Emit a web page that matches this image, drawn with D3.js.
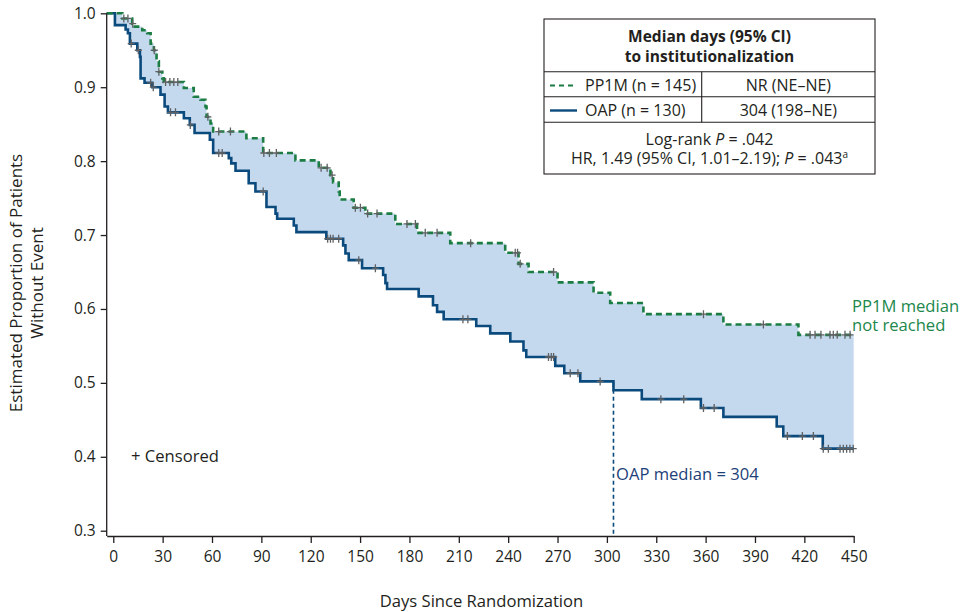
<!DOCTYPE html>
<html>
<head>
<meta charset="utf-8">
<script src="https://cdn.jsdelivr.net/npm/d3@7"></script>
<style>
  body { margin: 0; background: #fff; }
  svg { font-family: "Open Sans", sans-serif; }
</style>
</head>
<body>
<div id="chart"></div>
<script>
// Kaplan-Meier step values (day, proportion after the step)
const oapTimes = [0, 1, 7.5, 8.9, 10.1, 14.6, 16.2, 16.6, 19, 23.7, 28.7, 31.2, 33.2, 42.9, 46.5, 49.4, 58.7, 60.7, 70.2, 71.7,
  74.3, 82.3, 86.4, 93.1, 98.6, 99.6, 109.7, 111.3, 129.5, 139.7, 141.1, 143.1, 151.2, 164, 165.4, 166.4, 185.6, 194.3, 196.8, 200.8,
  220.6, 229.1, 241.3, 249.3, 251, 268.6, 274.1, 283.8, 304, 321.2, 357.1, 370.8, 403.2, 407.2, 431.2];
const oapSurv = [1.0, 0.984, 0.978, 0.973, 0.959, 0.950, 0.941, 0.912, 0.906, 0.900, 0.890, 0.874, 0.866, 0.858, 0.849, 0.838, 0.829, 0.811, 0.804, 0.797,
  0.787, 0.770, 0.759, 0.738, 0.729, 0.722, 0.713, 0.704, 0.695, 0.686, 0.675, 0.666, 0.655, 0.646, 0.635, 0.627, 0.617, 0.605, 0.596, 0.586,
  0.577, 0.567, 0.556, 0.544, 0.535, 0.523, 0.513, 0.502, 0.490, 0.478, 0.466, 0.454, 0.441, 0.428, 0.411];
const oapCensor = [10.9, 15.2, 22.7, 24.3, 34.8, 37.8, 46.8, 64.1, 66.2, 91.1, 130.3, 132, 133.6, 137, 149.2, 159.3, 212.5, 215.5,
  264.5, 266.2, 267.6, 277.7, 282.4, 295.9, 332.8, 346.7, 358.7, 365.2, 409.7, 418.8, 425.5, 431.5, 434.6, 441.7, 443.7, 445.7, 447.7, 449.7];

const pp1mTimes = [0, 5.5, 11.5, 12.1, 17.6, 20.6, 22.7, 24.7, 26.3, 27.7, 29.8, 30.7, 42.9, 48.9, 53, 56, 56.7, 59.1, 60.7, 80.9,
  91.1, 110.7, 124.9, 132, 133.6, 137, 137.6, 146.1, 153.2, 171.4, 184.6, 204.8, 238.2, 246.3, 252.4, 270, 291.9, 302, 322.2, 370.8, 416.4];
const pp1mSurv = [1.0, 0.993, 0.986, 0.982, 0.977, 0.973, 0.959, 0.950, 0.935, 0.921, 0.912, 0.907, 0.899, 0.887, 0.883, 0.874, 0.860, 0.851, 0.840, 0.831,
  0.811, 0.801, 0.791, 0.781, 0.771, 0.759, 0.748, 0.737, 0.729, 0.715, 0.703, 0.689, 0.676, 0.661, 0.650, 0.636, 0.622, 0.608, 0.593, 0.579, 0.565];
const pp1mCensor = [6.4, 8.9, 11.8, 24.9, 27.7, 31.8, 34.4, 36.8, 39.2, 57.5, 64.1, 71.2, 91.5, 94.9, 99.1, 126.3, 130, 133, 147.1, 150.2,
  154.6, 160.3, 178.5, 183.6, 189.6, 196.8, 217.2, 244.3, 245.7, 247.3, 267.6, 358.7, 395.1, 423.5, 426.5, 430.1, 435.6, 437.6, 440, 444.7, 447.8];

const xTicks = [0, 30, 60, 90, 120, 150, 180, 210, 240, 270, 300, 330, 360, 390, 420, 450];
const yTicks = [0.3, 0.4, 0.5, 0.6, 0.7, 0.8, 0.9, 1.0];
const oapMedian = 304;
const endDay = 450;

const navy = "#0b4a7d";
const green = "#1b7d43";
const textCol = "#231f20";

const width = 969, height = 612;
const xAxisY = 536;

const svg = d3.select("#chart").append("svg")
  .attr("width", width)
  .attr("height", height);

const x = d3.scaleLinear().domain([-4, endDay]).range([106.7, 853.7]);
const y = d3.scaleLinear().domain([0.3, 1.0]).range([530.7, 13.3]);

// step value at a given day
function survAt(times, surv, t) {
  let i = d3.bisectRight(times, t) - 1;
  if (i < 0) i = 0;
  return surv[i];
}

function stepPoints(times, surv) {
  const pts = [[x.domain()[0], surv[0]]];
  times.forEach((t, i) => pts.push([t, surv[i]]));
  pts.push([endDay, surv[surv.length - 1]]);
  return pts;
}

// shaded band between the curves
const allTimes = Array.from(new Set([x.domain()[0]].concat(oapTimes, pp1mTimes, [endDay]))).sort((a, b) => a - b);
const band = d3.area()
  .curve(d3.curveStepAfter)
  .x(d => x(d))
  .y0(d => y(survAt(oapTimes, oapSurv, d)))
  .y1(d => y(survAt(pp1mTimes, pp1mSurv, d)));

svg.append("path")
  .attr("d", band(allTimes))
  .attr("fill", "#c5d9ee");

const line = d3.line()
  .curve(d3.curveStepAfter)
  .x(d => x(d[0]))
  .y(d => y(d[1]));

// median reference line
svg.append("line")
  .attr("x1", x(oapMedian)).attr("x2", x(oapMedian))
  .attr("y1", y(0.5)).attr("y2", xAxisY)
  .attr("stroke", navy)
  .attr("stroke-width", 1.6)
  .attr("stroke-dasharray", "4,3");

svg.append("path")
  .attr("d", line(stepPoints(oapTimes, oapSurv)))
  .attr("fill", "none")
  .attr("stroke", navy)
  .attr("stroke-width", 2.6);

svg.append("path")
  .attr("d", line(stepPoints(pp1mTimes, pp1mSurv)))
  .attr("fill", "none")
  .attr("stroke", green)
  .attr("stroke-width", 2.6)
  .attr("stroke-dasharray", "6,4");

// censor marks
function drawCensor(times, surv, cens) {
  svg.append("g").selectAll("path")
    .data(cens)
    .enter()
    .append("path")
    .attr("d", d => {
      const cx = x(d), cy = y(survAt(times, surv, d));
      return `M${cx - 3.5},${cy}H${cx + 3.5}M${cx},${cy - 4}V${cy + 4}`;
    })
    .attr("stroke", "#5f6062")
    .attr("stroke-width", 1.3)
    .attr("fill", "none");
}
drawCensor(oapTimes, oapSurv, oapCensor);
drawCensor(pp1mTimes, pp1mSurv, pp1mCensor);

// axes
const xAxis = svg.append("g")
  .attr("transform", `translate(0,${xAxisY})`)
  .call(d3.axisBottom(x).tickValues(xTicks).tickSize(7).tickSizeOuter(0).tickPadding(8));
xAxis.select(".domain").attr("stroke", textCol).attr("stroke-width", 1.3);
xAxis.selectAll(".tick line").attr("stroke", textCol).attr("stroke-width", 1.3);
xAxis.selectAll("text").attr("font-size", "15.5px").attr("fill", textCol).attr("font-family", "Open Sans");

const yAxis = svg.append("g")
  .attr("transform", `translate(${x.range()[0]},0)`)
  .call(d3.axisLeft(y).tickValues(yTicks).tickFormat(d3.format(".1f")).tickSize(6).tickSizeOuter(0).tickPadding(5));
yAxis.select(".domain").remove();
yAxis.selectAll(".tick line").attr("stroke", textCol).attr("stroke-width", 1.3);
yAxis.selectAll("text").attr("font-size", "15.5px").attr("fill", textCol).attr("font-family", "Open Sans");
svg.append("line")
  .attr("x1", x.range()[0]).attr("x2", x.range()[0])
  .attr("y1", y(1.0)).attr("y2", xAxisY)
  .attr("stroke", textCol).attr("stroke-width", 1.3);

// axis titles
svg.append("text")
  .attr("x", 481.5).attr("y", 606.5)
  .attr("text-anchor", "middle")
  .attr("font-size", "16.6px").attr("fill", textCol)
  .text("Days Since Randomization");

svg.append("text")
  .attr("transform", "translate(22,283) rotate(-90)")
  .attr("text-anchor", "middle")
  .attr("font-size", "17px").attr("fill", textCol)
  .text("Estimated Proportion of Patients");
svg.append("text")
  .attr("transform", "translate(43,283) rotate(-90)")
  .attr("text-anchor", "middle")
  .attr("font-size", "17px").attr("fill", textCol)
  .text("Without Event");

// annotations
svg.append("text")
  .attr("x", 131).attr("y", 462)
  .attr("font-size", "16.6px").attr("fill", textCol)
  .text("+ Censored");

svg.append("text")
  .attr("x", 616).attr("y", 479.5)
  .attr("font-size", "16.6px").attr("fill", "#1d3f78")
  .text("OAP median = 304");

svg.append("text")
  .attr("x", 852).attr("y", 311.5)
  .attr("font-size", "16.6px").attr("fill", "#21874b")
  .text("PP1M median");
svg.append("text")
  .attr("x", 852).attr("y", 330.5)
  .attr("font-size", "16.6px").attr("fill", "#21874b")
  .text("not reached");

// table legend
const tb = svg.append("g");
const tL = 544, tR = 875, tT = 19, tB = 174, tMid = 701.7;
const rows = [71.7, 96.7, 122.3];
tb.append("rect")
  .attr("x", tL).attr("y", tT).attr("width", tR - tL).attr("height", tB - tT)
  .attr("fill", "#fff").attr("stroke", textCol).attr("stroke-width", 1.1);
rows.forEach(r => tb.append("line")
  .attr("x1", tL).attr("x2", tR).attr("y1", r).attr("y2", r)
  .attr("stroke", textCol).attr("stroke-width", 1.1));
tb.append("line")
  .attr("x1", tMid).attr("x2", tMid).attr("y1", rows[0]).attr("y2", rows[2])
  .attr("stroke", textCol).attr("stroke-width", 1.1);

const tc = (tL + tR) / 2;
tb.append("text").attr("x", tc).attr("y", 42.3).attr("text-anchor", "middle")
  .attr("font-size", "15.5px").attr("font-weight", "bold").attr("fill", textCol)
  .text("Median days (95% CI)");
tb.append("text").attr("x", tc).attr("y", 61.7).attr("text-anchor", "middle")
  .attr("font-size", "15.5px").attr("font-weight", "bold").attr("fill", textCol)
  .text("to institutionalization");

tb.append("line").attr("x1", 550).attr("x2", 576).attr("y1", 85.5).attr("y2", 85.5)
  .attr("stroke", green).attr("stroke-width", 2.2).attr("stroke-dasharray", "5,4");
tb.append("line").attr("x1", 550).attr("x2", 577).attr("y1", 110.5).attr("y2", 110.5)
  .attr("stroke", navy).attr("stroke-width", 2.4);

tb.append("text").attr("x", 585).attr("y", 90.5).attr("font-size", "16px").attr("fill", textCol)
  .text("PP1M (n = 145)");
tb.append("text").attr("x", 585).attr("y", 115.5).attr("font-size", "16px").attr("fill", textCol)
  .text("OAP (n = 130)");
tb.append("text").attr("x", (tMid + tR) / 2).attr("y", 90.5).attr("text-anchor", "middle")
  .attr("font-size", "16px").attr("fill", textCol).text("NR (NE–NE)");
tb.append("text").attr("x", (tMid + tR) / 2).attr("y", 115.5).attr("text-anchor", "middle")
  .attr("font-size", "16px").attr("fill", textCol).text("304 (198–NE)");

const lr = tb.append("text").attr("x", tc).attr("y", 145).attr("text-anchor", "middle")
  .attr("font-size", "16px").attr("fill", textCol);
lr.append("tspan").text("Log-rank ");
lr.append("tspan").attr("font-style", "italic").text("P");
lr.append("tspan").text(" = .042");

const hr = tb.append("text").attr("x", tc).attr("y", 163.5).attr("text-anchor", "middle")
  .attr("font-size", "16px").attr("fill", textCol);
hr.append("tspan").text("HR, 1.49 (95% CI, 1.01–2.19); ");
hr.append("tspan").attr("font-style", "italic").text("P");
hr.append("tspan").text(" = .043");
hr.append("tspan").attr("font-size", "10px").attr("dy", -6).text("a");
</script>
</body>
</html>
